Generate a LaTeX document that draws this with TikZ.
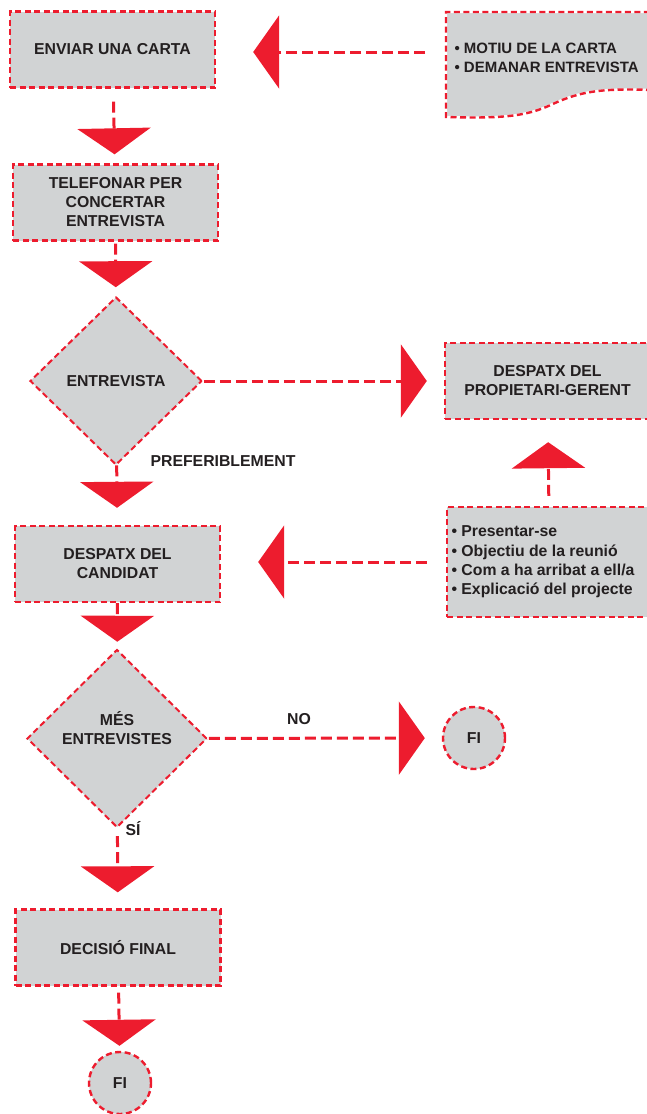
\documentclass[tikz,border=0pt]{standalone}
\usepackage{fontspec}
\setmainfont{Liberation Sans}
\usetikzlibrary{shapes.geometric,arrows.meta}
\definecolor{myred}{HTML}{ED1C2E}
\definecolor{boxgray}{HTML}{D1D3D4}
\definecolor{txt}{HTML}{231F20}
\begin{document}
\begin{tikzpicture}[x=1pt,y=-1pt,
  every node/.style={font=\fontsize{15.8}{19}\selectfont\bfseries, text=txt},
  outline/.style={fill=boxgray, draw=myred, line width=2.4pt, dash pattern=on 6pt off 3.5pt,
     preaction={draw=white, solid, line width=2.4pt}},
  boxn/.style={outline, rectangle, minimum width=205pt, minimum height=76pt, inner sep=0pt, align=center},
  dia/.style={outline, diamond, line width=2pt, inner sep=0pt, preaction={draw=white, solid, line width=2pt}},
  circ/.style={outline, circle, minimum size=62pt, inner sep=0pt},
  conn/.style={draw=myred, line width=3pt, dash pattern=on 11pt off 5pt,
     -{Triangle[length=26pt,width=73pt]}},
  lbl/.style={anchor=base}
]
\useasboundingbox (0,0) rectangle (647,1114);

% document shape (top right)
\fill[boxgray] (446,12) -- (652,12) -- (652,90) .. controls (600,88) and (580,92) .. (555,103)
   .. controls (530,115) and (510,119) .. (446,117) -- cycle;
\draw[white, line width=2.4pt] (652,90) .. controls (600,88) and (580,92) .. (555,103)
   .. controls (530,115) and (510,119) .. (446,117) -- (446,12) -- (652,12);
\draw[myred, line width=2.4pt, dash pattern=on 6pt off 3.5pt] (652,90) .. controls (600,88) and (580,92) .. (555,103)
   .. controls (530,115) and (510,119) .. (446,117) -- (446,12) -- (652,12);
\node[anchor=west, align=left, font=\fontsize{15}{19.5}\selectfont\bfseries] (doc) at (451,58) {• MOTIU DE LA CARTA\\• DEMANAR ENTREVISTA};
\coordinate (docw) at (446,52);

% main column
\node[boxn] (b1) at (112.5,49.5) {ENVIAR UNA CARTA};
\node[boxn] (b2) at (115.5,202.5) {TELEFONAR PER\\CONCERTAR\\ENTREVISTA};
\node[dia, minimum width=172pt, minimum height=168pt] (d1) at (116,381) {ENTREVISTA};
\node[boxn] (b3) at (117.5,564) {DESPATX DEL\\CANDIDAT};
\node[dia, minimum width=180pt, minimum height=178pt] (d2) at (117,738.5) {};
\node[align=center] (d2t) at (117,728) {MÉS\\ENTREVISTES};
\node[boxn] (b4) at (118,947.5) {DECISIÓ FINAL};
\node[circ] (fi2) at (120,1083) {FI};

% right column
\node[boxn] (prop) at (547.5,381) {DESPATX DEL\\PROPIETARI-GERENT};
\node[boxn, minimum width=205pt, minimum height=110pt] (pts) at (549.5,562) {};
\node[anchor=west, align=left, font=\fontsize{15.8}{19.3}\selectfont\bfseries] (ptst) at (448,562) {• Presentar-se\\• Objectiu de la reunió\\• Com a ha arribat a ell/a\\• Explicació del projecte};
\node[circ] (fi1) at (474,738) {FI};

% labels
\node[lbl] (pref) at (223,466) {PREFERIBLEMENT};
\node[lbl] (no) at (299,724) {NO};
\node[lbl] (si) at (133,835) {SÍ};

% connectors
\draw[conn, shorten <=13pt, shorten >=9pt] (b1) -- (b2);
\draw[conn, shorten <=2pt, shorten >=9pt] (b2) -- (d1);
\draw[conn, shorten >=17pt] (d1) -- (b3);
\draw[conn, shorten >=7pt] (b3) -- (d2);
\draw[conn, shorten <=8pt, shorten >=16pt] (d2) -- (b4);
\draw[conn, shorten <=6pt, shorten >=5pt] (b4) -- (fi2);
\draw[conn, shorten <=1pt, shorten >=17pt] (d1) -- (prop);
\draw[conn, shorten <=10pt, shorten >=22pt] (pts) -- (prop);
\draw[conn, shorten <=19pt, shorten >=37pt] (pts.west) -- (pts.west -| b3.east);
\draw[conn, shorten <=1pt, shorten >=17pt] (d2) -- (fi1);
\draw[conn, shorten <=21pt, shorten >=37pt] (docw) -- (docw -| b1.east);
\end{tikzpicture}
\end{document}
